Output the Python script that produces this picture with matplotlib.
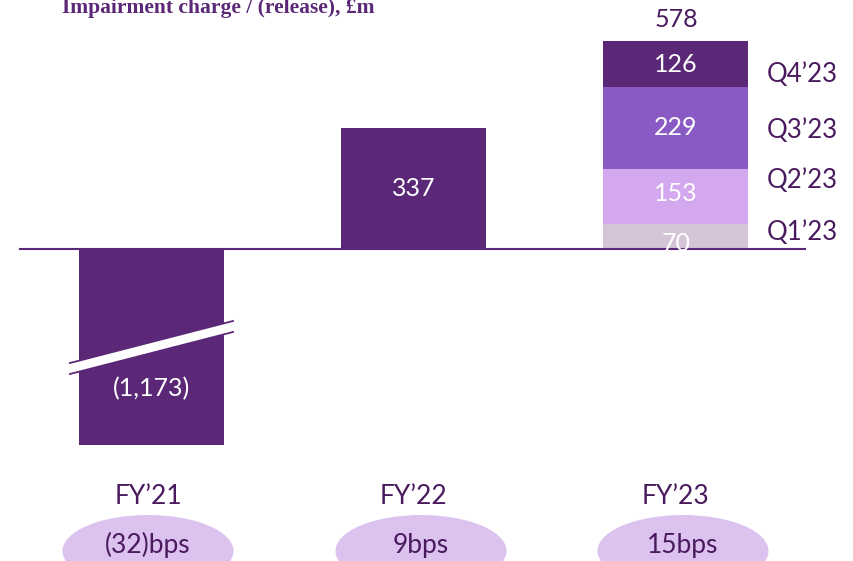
import matplotlib
matplotlib.use("Agg")
import matplotlib.pyplot as plt
from matplotlib.patches import Ellipse, Polygon
from matplotlib.transforms import blended_transform_factory

# ---------------------------------------------------------------
# DATA
# ---------------------------------------------------------------
years = ["FY\u201921", "FY\u201922", "FY\u201923"]
bps = ["(32)bps", "9bps", "15bps"]
annual = [-1173, 337, None]          # FY23 shown as quarters
quarters = ["Q1\u201923", "Q2\u201923", "Q3\u201923", "Q4\u201923"]
q_values = [70, 153, 229, 126]

# ---------------------------------------------------------------
# STYLE
# ---------------------------------------------------------------
DARK = "#5B2877"
TEXT = "#4A1A5E"
Q_COLORS = ["#D5C4D8", "#D4A8EE", "#8A5AC4", "#5B2877"]
PILL = "#DCC2EE"
W, H = 854, 561
ZERO_PX = 249          # zero line, pixels from top
PX_PER_UNIT = 0.359
STEP_PX = 262          # distance between bar centres
FIRST_PX = 152
BAR_W = 145 / STEP_PX
BREAK_FLOOR = -545     # broken bar shown down to this level
PILL_SHIFT = [-4, 7, 7]
YEAR_SHIFT = [-4, 0, 0]

plt.rcParams["font.family"] = ["Lato", "DejaVu Sans"]

fig = plt.figure(figsize=(W / 100, H / 100), dpi=100)
ax = fig.add_axes([0, 0, 1, 1])
ax.set_xlim(-FIRST_PX / STEP_PX, (W - FIRST_PX) / STEP_PX)
ax.set_ylim(-(H - ZERO_PX) / PX_PER_UNIT, ZERO_PX / PX_PER_UNIT)
ax.axis("off")

# annual bars
for i, v in enumerate(annual):
    if v is None:
        continue
    shown = max(v, BREAK_FLOOR)
    ax.bar(i, shown, width=BAR_W, color=DARK, zorder=2)

# break marker on FY21
u = 1 / PX_PER_UNIT
bx0, bx1 = 0 - 82 / STEP_PX, 0 + 81 / STEP_PX
y_up0, y_up1 = -(363 - ZERO_PX) * u, -(321 - ZERO_PX) * u
y_lo0, y_lo1 = -(374 - ZERO_PX) * u, -(332 - ZERO_PX) * u
ax.add_patch(Polygon([(bx0, y_up0), (bx1, y_up1), (bx1, y_lo1), (bx0, y_lo0)],
                     closed=True, facecolor="white", edgecolor="none", zorder=3))
ax.plot([bx0, bx1], [y_up0, y_up1], color=DARK, lw=1.3, zorder=4)
ax.plot([bx0, bx1], [y_lo0, y_lo1], color=DARK, lw=1.3, zorder=4)

# stacked FY23
bottom = 0
mids = []
for val, col in zip(q_values, Q_COLORS):
    ax.bar(2, val, width=BAR_W, bottom=bottom, color=col, zorder=2)
    mids.append(bottom + val / 2)
    bottom += val
total = bottom

# zero line
ax.plot([-(FIRST_PX - 20) / STEP_PX, (805 - FIRST_PX) / STEP_PX], [0, 0],
        color=DARK, lw=1.5, zorder=5)

# value labels
ax.text(0, -(389 - ZERO_PX) * u, f"({abs(annual[0]):,})", color="white",
        fontsize=18, ha="center", va="center", zorder=6)
ax.text(1, annual[1] / 2, f"{annual[1]}", color="white",
        fontsize=18, ha="center", va="center", zorder=6)
label_offsets = [-7, 3, 0, 0]
for val, m, off in zip(q_values, mids, label_offsets):
    ax.text(2, m + off * u, f"{val}", color="white", fontsize=18,
            ha="center", va="center", zorder=6)
ax.text(2, total + 22 * u, f"{total}", color=TEXT, fontsize=18,
        ha="center", va="center")

# quarter names to the right
q_offsets = [4, 16, -3, -10]
qx = (767 - FIRST_PX) / STEP_PX
for name, m, off in zip(quarters, mids, q_offsets):
    ax.text(qx, m + off * u, name, color=TEXT, fontsize=18.5,
            ha="left", va="center")

# year labels and bps pills
tr = blended_transform_factory(ax.transData, ax.transAxes)
for i, (yr, b) in enumerate(zip(years, bps)):
    px = i + PILL_SHIFT[i] / STEP_PX
    ax.text(i + YEAR_SHIFT[i] / STEP_PX, 1 - 496 / H, yr, transform=tr,
            color=TEXT, fontsize=19, ha="center", va="center")
    ax.add_patch(Ellipse((px, 1 - 551 / H), 171 / STEP_PX, 72 / H,
                         transform=tr, facecolor=PILL, edgecolor="none"))
    ax.text(px, 1 - 545 / H, b, transform=tr, color=TEXT, fontsize=19,
            ha="center", va="center")

# title, clipped at the top edge
fig.text(62 / W, 1 - 13 / H, "Impairment charge / (release), \u00a3m",
         family="Liberation Serif", weight="bold", color=DARK, fontsize=15.5,
         ha="left", va="baseline")

fig.savefig("out.png", dpi=100)
